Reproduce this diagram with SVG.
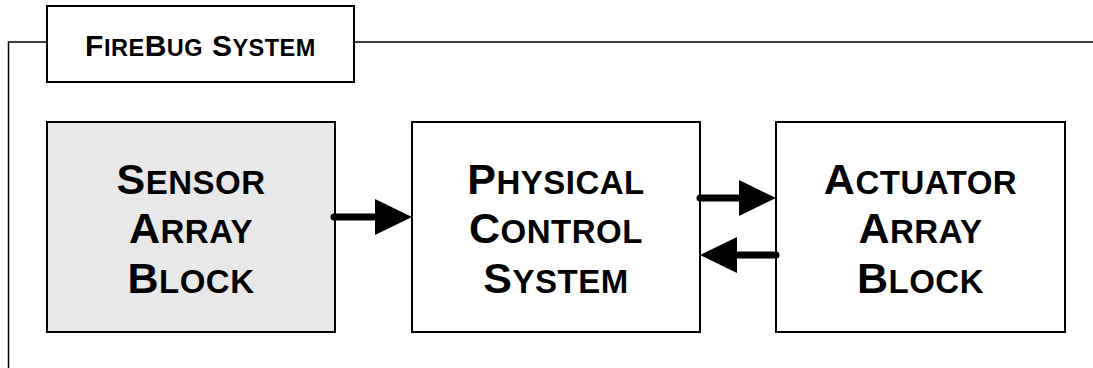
<svg xmlns="http://www.w3.org/2000/svg" width="1093" height="368" viewBox="0 0 1093 368">
<style>
.frame{fill:none;stroke:#000;stroke-width:1.5}
.box{fill:#fff;stroke:#000;stroke-width:2}
.gray{fill:#e8e8e8}
.t{font-family:"Liberation Sans",Arial,sans-serif;font-weight:bold;fill:#000;text-anchor:middle}
.bt{font-size:43px;letter-spacing:0.5px}
.s{font-size:33px}
.tt{font-size:30px;letter-spacing:0.5px}
.ts{font-size:23.5px}
.conn{fill:none;stroke:#000;stroke-width:7;stroke-linecap:round}
</style>
<defs>
<marker id="ah" markerUnits="userSpaceOnUse" markerWidth="37" markerHeight="36" viewBox="0 0 37 36" refX="1" refY="18" orient="auto">
<path d="M0,0 L37,18 L0,36 Z" fill="#000"/>
</marker>
</defs>
<g id="frame">
<path class="frame" d="M1093,42 H354 M47,42 H8.5 V368"/>
<rect class="box" x="47" y="6" width="307" height="76"/>
<text class="t tt" x="200.5" y="56">F<tspan class="ts">IRE</tspan>B<tspan class="ts">UG</tspan> S<tspan class="ts">YSTEM</tspan></text>
</g>
<g id="sensor">
<rect class="box gray" x="47" y="122" width="288" height="210"/>
<text class="t bt" x="191" y="194">S<tspan class="s">ENSOR</tspan></text>
<text class="t bt" x="191" y="243">A<tspan class="s">RRAY</tspan></text>
<text class="t bt" x="191" y="293">B<tspan class="s">LOCK</tspan></text>
</g>
<g id="physical">
<rect class="box" x="412" y="122" width="288" height="210"/>
<text class="t bt" x="556" y="194">P<tspan class="s">HYSICAL</tspan></text>
<text class="t bt" x="556" y="243">C<tspan class="s">ONTROL</tspan></text>
<text class="t bt" x="556" y="293">S<tspan class="s">YSTEM</tspan></text>
</g>
<g id="actuator">
<rect class="box" x="776" y="122" width="289" height="210"/>
<text class="t bt" x="920.5" y="194">A<tspan class="s">CTUATOR</tspan></text>
<text class="t bt" x="920.5" y="243">A<tspan class="s">RRAY</tspan></text>
<text class="t bt" x="920.5" y="293">B<tspan class="s">LOCK</tspan></text>
</g>
<g id="connectors">
<path class="conn" d="M334,217 H376" marker-end="url(#ah)"/>
<path class="conn" d="M700,198 H740" marker-end="url(#ah)"/>
<path class="conn" d="M776,255 H736" marker-end="url(#ah)"/>
</g>
</svg>
